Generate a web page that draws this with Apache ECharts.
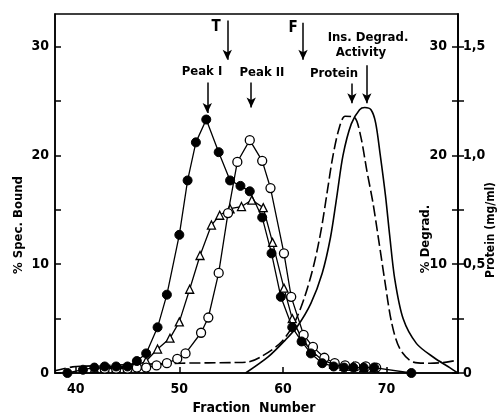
<!DOCTYPE html>
<html>
<head>
<meta charset="utf-8">
<script src="https://cdn.jsdelivr.net/npm/echarts@6/dist/echarts.min.js"></script>
<style>
html,body{margin:0;padding:0;background:#fff;}
#c{width:504px;height:416px;}
</style>
</head>
<body>
<div id="c"></div>
<script>
// Fraction number / value pairs
var peakFilled = [[39.2,0],[40.7,0.3],[41.8,0.5],[42.8,0.6],[43.9,0.6],[45.0,0.6],[45.9,1.1],[46.8,1.8],[47.9,4.2],[48.8,7.2],[50.0,12.7],[50.8,17.7],[51.6,21.2],[52.6,23.3],[53.8,20.3],[54.9,17.7],[55.9,17.2],[56.8,16.7],[58.0,14.3],[58.9,11.0],[59.8,7.0],[60.9,4.2],[61.8,2.9],[62.7,1.8],[63.8,0.9],[64.9,0.6],[65.9,0.5],[66.8,0.5],[67.8,0.5],[68.8,0.5],[72.4,0]];
var peakOpen = [[42.8,0.4],[43.9,0.4],[45.0,0.4],[45.9,0.5],[46.8,0.5],[47.8,0.7],[48.8,0.9],[49.8,1.3],[50.6,1.8],[52.1,3.7],[52.8,5.1],[53.8,9.2],[54.7,14.7],[55.6,19.4],[56.8,21.4],[58.0,19.5],[58.8,17.0],[60.1,11.0],[60.8,7.0],[62.0,3.5],[62.9,2.4],[64.0,1.4],[65.0,0.9],[66.0,0.7],[67.0,0.6],[68.0,0.6],[69.0,0.5]];
var peakTriangle = [[41.8,0.4],[42.8,0.5],[43.9,0.5],[45.0,0.5],[45.9,0.7],[46.8,1.1],[47.9,2.2],[49.1,3.2],[50.0,4.7],[51.0,7.7],[52.0,10.8],[53.1,13.6],[53.9,14.5],[54.9,15.1],[56.0,15.3],[57.0,15.9],[58.1,15.2],[59.0,12.0],[60.1,7.8],[60.9,5.0],[61.9,3.0],[62.8,2.0],[63.8,1.2],[64.9,0.8],[65.9,0.6],[66.8,0.6],[67.8,0.5],[68.8,0.5]];
var degradActivity = [[56.4,0],[58.6,1.5],[60.2,3.0],[61.4,4.3],[62.7,6.4],[63.8,9.2],[64.6,12.5],[65.2,16.2],[65.8,20.0],[66.6,22.9],[67.4,24.2],[67.9,24.4],[68.5,24.2],[68.95,23.0],[69.4,20.0],[69.9,16.3],[70.3,12.7],[70.8,8.6],[71.6,5.0],[72.9,2.7],[74.6,1.4],[76.1,0.5],[76.9,0]];
var proteinMgMl = [[38.0,0.01],[39.7,0.028],[42.0,0.033],[45.0,0.038],[50.2,0.045],[55.4,0.048],[56.6,0.05],[57.9,0.075],[59.8,0.14],[61.1,0.23],[62.1,0.35],[63.0,0.5],[63.7,0.66],[64.3,0.84],[64.8,0.99],[65.4,1.12],[66.0,1.18],[66.9,1.175],[67.5,1.09],[68.1,0.93],[68.7,0.78],[69.2,0.625],[69.8,0.435],[70.5,0.23],[71.3,0.11],[72.6,0.05],[74.2,0.045],[75.8,0.05],[76.9,0.06]];

var xTicks = [40,50,60,70];
var yTicks = [0,5,10,15,20,25,30];
var yLabels = [0,10,20,30];
var yInnerLabels = [10,20,30];
var pTicks = [0,0.25,0.5,0.75,1.0,1.25,1.5];
var pLabels = [0,0.5,1.0,1.5];

// annotation arrows: [x, yFrom, yTo] in data units of the left axis
var arrows = [[54.63,32.4,28.8],[61.94,32.2,28.8],[52.7,26.7,23.9],[56.94,26.7,24.4],[66.66,26.6,24.8],[68.1,28.3,24.8]];

var FONT = "'DejaVu Sans Condensed','Liberation Sans Narrow','Roboto Condensed',Roboto,sans-serif";
var chart = echarts.init(document.getElementById('c'), null, {renderer:'canvas'});

var lblStyle = {color:'#000', fontFamily:FONT, fontWeight:'bold', fontSize:14};

function txt(x, y, s, size, rot) {
  return {type:'text', x:x, y:y, rotation: rot || 0,
    style:{text:s, fill:'#000', font:'bold ' + size + 'px ' + FONT, align:'center', verticalAlign:'middle'}};
}

var option = {
  animation:false,
  backgroundColor:'#fff',
  grid:{left:55, right:46, top:14, bottom:43, show:true, borderColor:'#000', borderWidth:1.5, backgroundColor:'transparent'},
  xAxis:{type:'value', min:38, max:76.9,
    axisLine:{show:true, lineStyle:{color:'#000', width:1.5}},
    axisTick:{show:true, inside:true, length:6, customValues:xTicks, lineStyle:{color:'#000', width:1.5}},
    axisLabel:Object.assign({customValues:xTicks, margin:9}, lblStyle),
    splitLine:{show:false}},
  yAxis:[
    {type:'value', min:0, max:33, position:'left',
      axisLine:{show:true, lineStyle:{color:'#000', width:1.5}},
      axisTick:{show:true, inside:true, length:6, customValues:yTicks, lineStyle:{color:'#000', width:1.5}},
      axisLabel:Object.assign({customValues:yLabels, margin:6}, lblStyle),
      splitLine:{show:false}},
    {type:'value', min:0, max:33, position:'right',
      axisLine:{show:true, lineStyle:{color:'#000', width:1.5}},
      axisTick:{show:true, inside:true, length:6, customValues:yTicks, lineStyle:{color:'#000', width:1.5}},
      axisLabel:Object.assign({customValues:yInnerLabels, inside:true, margin:11}, lblStyle),
      splitLine:{show:false}},
    {type:'value', min:0, max:1.65, position:'right', offset:0,
      axisLine:{show:true, lineStyle:{color:'#000', width:1.5}},
      axisTick:{show:true, inside:false, length:6, customValues:pTicks, lineStyle:{color:'#000', width:1.5}},
      axisLabel:Object.assign({customValues:pLabels, margin:5,
        formatter:function(v){ return v === 0 ? '0' : v.toFixed(1).replace('.', ','); }}, lblStyle),
      splitLine:{show:false}}
  ],
  series:[
    {name:'Protein', type:'line', yAxisIndex:2, data:proteinMgMl, smooth:0.3, showSymbol:false, symbol:'none',
      lineStyle:{color:'#000', width:1.6, type:[11,4]}, z:2},
    {name:'Ins. Degrad. Activity', type:'line', yAxisIndex:1, data:degradActivity, smooth:0.3, showSymbol:false, symbol:'none',
      lineStyle:{color:'#000', width:1.6}, z:2},
    {name:'Triangle', type:'line', yAxisIndex:0, data:peakTriangle, symbol:'triangle', symbolSize:8,
      itemStyle:{color:'#fff', borderColor:'#000', borderWidth:1.3}, lineStyle:{color:'#000', width:1.3}, z:3},
    {name:'Open', type:'line', yAxisIndex:0, data:peakOpen, symbol:'circle', symbolSize:9,
      itemStyle:{color:'#fff', borderColor:'#000', borderWidth:1.3}, lineStyle:{color:'#000', width:1.3}, z:4},
    {name:'Filled', type:'line', yAxisIndex:0, data:peakFilled, symbol:'circle', symbolSize:9,
      itemStyle:{color:'#000', borderColor:'#000', borderWidth:1}, lineStyle:{color:'#000', width:1.3}, z:5,
      markLine:{silent:true, symbol:['none','arrow'], symbolSize:[7,10], animation:false,
        label:{show:false}, lineStyle:{color:'#000', width:1.5, type:'solid'},
        data: arrows.map(function(a){ return [{coord:[a[0],a[1]]},{coord:[a[0],a[2]]}]; })}}
  ],
  graphic:[
    txt(19, 225, '% Spec. Bound', 13, Math.PI/2),
    txt(426, 239, '% Degrad.', 13, Math.PI/2),
    txt(491, 230, 'Protein (mg/ml)', 12, Math.PI/2),
    txt(254, 408, 'Fraction  Number', 14),
    txt(216, 27, 'T', 15),
    txt(293, 28, 'F', 15),
    txt(202, 72, 'Peak I', 13),
    txt(262, 73, 'Peak II', 13),
    txt(334, 74, 'Protein', 13),
    txt(368, 38, 'Ins. Degrad.', 13),
    txt(361, 53, 'Activity', 13)
  ]
};
chart.setOption(option);
</script>
</body>
</html>
